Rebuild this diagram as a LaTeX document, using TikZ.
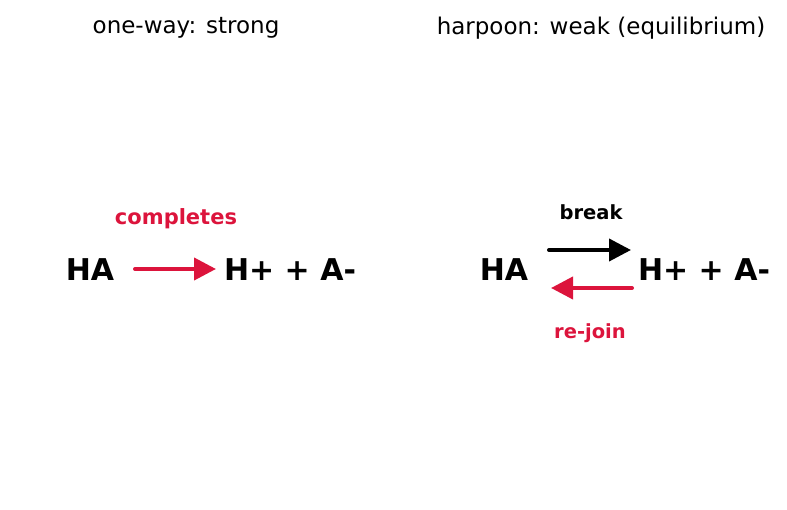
\documentclass[tikz,border=0pt]{standalone}
\usepackage{fontspec}
\setmainfont{DejaVu Sans}
\usetikzlibrary{arrows.meta}
\definecolor{crim}{HTML}{DC143C}
\tikzset{
  title/.style={inner sep=0pt, font=\fontsize{23}{27}\selectfont},
  species/.style={inner sep=0pt, font=\fontsize{30}{36}\selectfont\bfseries},
  lbl/.style={inner sep=0pt, font=\fontsize{19.5}{23}\selectfont\bfseries},
  rxn/.style={line width=4pt, line cap=round, -{Triangle[length=22pt,width=22pt]}}
}
\begin{document}
\begin{tikzpicture}[x=1pt,y=-1pt]
\useasboundingbox (0,0) rectangle (787,510);
\node[title] (t1) at (186,28) {one-way: strong};
\node[title] (t2) at (601,28) {harpoon: weak (equilibrium)};
% left
\node[species] (ha1) at (90,270) {HA};
\node[species] (p1) at (290,270) {H+ + A-};
\coordinate (a1s) at (135,269);
\coordinate (a1e) at (216,269);
\draw[rxn, crim] (a1s) -- (a1e);
\node[lbl, crim, font=\fontsize{21}{25}\selectfont\bfseries] (c1) at (176,219) {completes};
% right
\node[species] (ha2) at (504,270) {HA};
\node[species] (p2) at (704,270) {H+ + A-};
\coordinate (b1s) at (549,250);
\coordinate (b1e) at (631,250);
\coordinate (b2s) at (632,288);
\coordinate (b2e) at (551,288);
\draw[rxn, black] (b1s) -- (b1e);
\draw[rxn, crim] (b2s) -- (b2e);
\node[lbl] (br) at (591,212) {break};
\node[lbl, crim] (rj) at (590,333) {re-join};
\end{tikzpicture}
\end{document}
